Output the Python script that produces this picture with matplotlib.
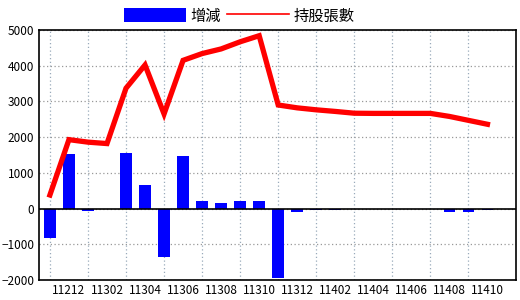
import matplotlib
matplotlib.use("Agg")
import matplotlib.pyplot as plt
from matplotlib.patches import Patch
from matplotlib.lines import Line2D

plt.rcParams['font.family'] = ['Noto Sans CJK TC', 'DejaVu Sans']

months = ['11211', '11212', '11301', '11302', '11303', '11304', '11305', '11306',
          '11307', '11308', '11309', '11310', '11311', '11312', '11401', '11402',
          '11403', '11404', '11405', '11406', '11407', '11408', '11409', '11410']
change = [-820, 1540, -70, 0, 1565, 655, -1345, 1465,
          205, 155, 205, 205, -1935, -95, -45, -45,
          0, 0, 0, 0, 0, -95, -95, -45]
holding = [380, 1930, 1860, 1820, 3370, 4020, 2650, 4150,
           4340, 4470, 4670, 4840, 2900, 2820, 2765, 2720,
           2670, 2665, 2665, 2665, 2665, 2580, 2470, 2360]

fig = plt.figure(figsize=(5.2, 3.0), dpi=100)
ax = fig.add_axes([38.5/520, 20/300, (516-38.5)/520, 250/300])

x = list(range(len(months)))
ax.bar(x, change, width=0.62, color='#0000ff', zorder=2)
ax.plot(x, holding, color='#ff0000', linewidth=3.8, zorder=3, solid_joinstyle='miter')
ax.axhline(0, color='black', linewidth=1.2, zorder=2.5)

ax.set_xlim(-0.6, 24.5)
ax.set_ylim(-2000, 5000)
ax.set_yticks(range(-2000, 5001, 1000))
ax.set_xticks(x[1::2])
ax.set_xticklabels(months[1::2])
ax.set_xticks(x[0::2], minor=True)
ax.tick_params(axis='both', which='both', length=0, labelsize=8.5, pad=3)
ax.grid(axis='y', which='major', color='#999999', linestyle=(0, (1, 2)), linewidth=0.9, zorder=0)
ax.grid(axis='x', which='minor', color='#99aabb', linestyle=(0, (1, 2)), linewidth=0.9, zorder=0)
for s in ax.spines.values():
    s.set_linewidth(1.2)
    s.set_color('black')

handles = [Patch(facecolor='#0000ff', edgecolor='none'),
           Line2D([0], [0], color='#ff0000', linewidth=1.2)]
fig.legend(handles, ['增減', '持股張數'], loc='center', bbox_to_anchor=(239/520, 1-16/300),
           ncol=2, frameon=False, fontsize=11, handlelength=4.1, handleheight=1.05,
           handletextpad=0.25, columnspacing=0.4, borderpad=0, borderaxespad=0)

fig.savefig('out.png', dpi=100)
